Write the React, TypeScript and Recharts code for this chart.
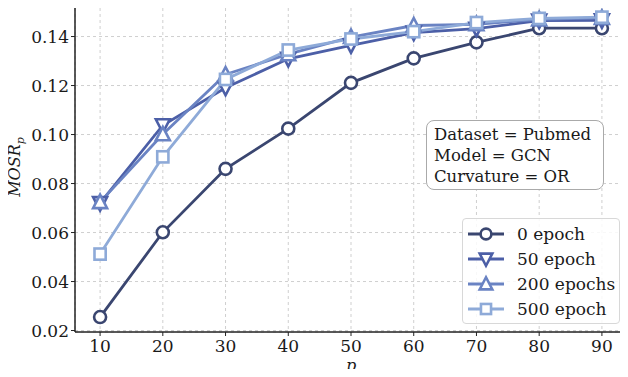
import {
  LineChart,
  Line,
  XAxis,
  YAxis,
  CartesianGrid,
  ReferenceArea,
} from 'recharts';

const P_VALUES = [10, 20, 30, 40, 50, 60, 70, 80, 90];
const EPOCH_0 = [0.0255, 0.0601, 0.086, 0.1024, 0.1211, 0.1311, 0.1376, 0.1434, 0.1434];
const EPOCH_50 = [0.072, 0.1038, 0.1191, 0.1309, 0.1364, 0.1416, 0.1432, 0.1465, 0.1466];
const EPOCH_200 = [0.0724, 0.1001, 0.1245, 0.1328, 0.1398, 0.1445, 0.145, 0.147, 0.1476];
const EPOCH_500 = [0.0512, 0.0909, 0.1225, 0.1345, 0.139, 0.142, 0.1457, 0.1474, 0.1479];
const X_TICKS = [10, 20, 30, 40, 50, 60, 70, 80, 90];
const Y_TICKS = [0.02, 0.04, 0.06, 0.08, 0.1, 0.12, 0.14];
const INFO_LINES = ['Dataset = Pubmed', 'Model = GCN', 'Curvature = OR'];

const FONT = 'DejaVu Serif, serif';

type Shape = 'circle' | 'down' | 'up' | 'square';

const SERIES: { key: string; name: string; color: string; shape: Shape }[] = [
  { key: 'e0', name: '0 epoch', color: '#3a4670', shape: 'circle' },
  { key: 'e50', name: '50 epoch', color: '#4c5fa7', shape: 'down' },
  { key: 'e200', name: '200 epochs', color: '#6a83c3', shape: 'up' },
  { key: 'e500', name: '500 epoch', color: '#8eaad8', shape: 'square' },
];

const data = P_VALUES.map((p, i) => ({
  p,
  e0: EPOCH_0[i],
  e50: EPOCH_50[i],
  e200: EPOCH_200[i],
  e500: EPOCH_500[i],
}));

function Marker({ cx, cy, shape, color, s = 1 }: { cx: number; cy: number; shape: Shape; color: string; s?: number }) {
  const common = { fill: '#fff', stroke: color, strokeWidth: 2.6 };
  if (shape === 'circle') return <circle cx={cx} cy={cy} r={6 * s} {...common} />;
  if (shape === 'square')
    return <rect x={cx - 5.6 * s} y={cy - 5.6 * s} width={11.2 * s} height={11.2 * s} {...common} />;
  if (shape === 'down')
    return (
      <polygon
        points={`${cx - 7 * s},${cy - 6 * s} ${cx + 7 * s},${cy - 6 * s} ${cx},${cy + 7.5 * s}`}
        {...common}
      />
    );
  return (
    <polygon
      points={`${cx},${cy - 7.5 * s} ${cx - 7 * s},${cy + 6 * s} ${cx + 7 * s},${cy + 6 * s}`}
      {...common}
    />
  );
}

const makeDot = (shape: Shape, color: string) => (props: any) => (
  <Marker key={`${shape}-${props.index}`} cx={props.cx} cy={props.cy} shape={shape} color={color} />
);

function YLabel() {
  return (
    <text
      transform="translate(20,167) rotate(-90)"
      textAnchor="middle"
      fontFamily={FONT}
      fontStyle="italic"
      fontSize={16}
      fill="#1a1a1a"
    >
      MOSR
      <tspan fontSize={11} dy={4}>
        p
      </tspan>
    </text>
  );
}

export default function App() {
  return (
    <div style={{ position: 'relative', width: 628, height: 377, margin: -8, background: '#fff' }}>
      <LineChart width={628} height={377} data={data} margin={{ top: 2, right: 1, left: 0, bottom: 0 }}>
        <CartesianGrid stroke="#cfcfcf" strokeDasharray="3 3" />
        <XAxis
          dataKey="p"
          type="number"
          domain={[6, 94]}
          ticks={X_TICKS}
          height={45}
          tick={{ fill: '#1a1a1a', fontSize: 17, fontFamily: FONT }}
          tickLine={{ stroke: '#222' }}
          tickSize={4}
          tickMargin={4}
          axisLine={{ stroke: '#222' }}
          label={{ value: 'p', position: 'insideBottom', offset: 6, fontStyle: 'italic', fontFamily: FONT, fontSize: 16, fill: '#1a1a1a' }}
        />
        <YAxis
          type="number"
          domain={[0.0194, 0.1541]}
          ticks={Y_TICKS}
          width={75}
          allowDataOverflow
          tickFormatter={(v) => Number(v).toFixed(2)}
          tick={{ fill: '#1a1a1a', fontSize: 17, fontFamily: FONT }}
          tickLine={{ stroke: '#222' }}
          tickSize={4}
          axisLine={{ stroke: '#222' }}
          label={<YLabel />}
        />
        <ReferenceArea x1={6} x2={94} y1={0.0194} y2={0.1541} fill="none" stroke="#222" strokeWidth={1} ifOverflow="visible" />
        {SERIES.map((s) => (
          <Line
            key={s.key}
            dataKey={s.key}
            name={s.name}
            type="linear"
            stroke={s.color}
            strokeWidth={2.8}
            dot={makeDot(s.shape, s.color)}
            activeDot={false}
            isAnimationActive={false}
          />
        ))}
      </LineChart>
      <div
        style={{
          position: 'absolute',
          left: 426,
          top: 120,
          width: 178,
          height: 70,
          boxSizing: 'border-box',
          border: '1px solid #aaa',
          borderRadius: 8,
          background: '#fff',
          fontFamily: FONT,
          fontSize: 16.5,
          lineHeight: '21px',
          color: '#1a1a1a',
          padding: '3px 0 0 7px',
          whiteSpace: 'nowrap',
        }}
      >
        {INFO_LINES.map((t) => (
          <div key={t}>{t}</div>
        ))}
      </div>
      <div
        style={{
          position: 'absolute',
          left: 462,
          top: 218,
          width: 158,
          boxSizing: 'border-box',
          border: '1px solid #d8d8d8',
          borderRadius: 4,
          background: 'rgba(255,255,255,0.85)',
          padding: '2px 0 2px 4px',
          fontFamily: FONT,
          fontSize: 17,
          color: '#1a1a1a',
          whiteSpace: 'nowrap',
        }}
      >
        {SERIES.map((s) => (
          <div key={s.key} style={{ display: 'flex', alignItems: 'center', height: 25 }}>
            <svg width={38} height={20} style={{ marginRight: 12 }}>
              <line x1={1} y1={10} x2={37} y2={10} stroke={s.color} strokeWidth={2.8} />
              <Marker cx={19} cy={10} shape={s.shape} color={s.color} s={0.9} />
            </svg>
            <span>{s.name}</span>
          </div>
        ))}
      </div>
    </div>
  );
}
